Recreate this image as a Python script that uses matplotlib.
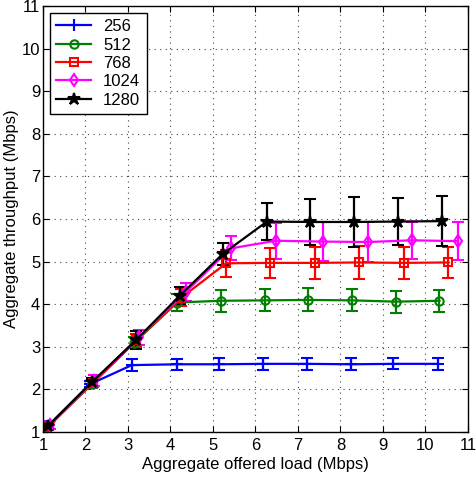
import matplotlib
matplotlib.use("Agg")
import matplotlib.pyplot as plt
from matplotlib.lines import Line2D

plt.rcParams['font.family'] = ['Liberation Sans', 'DejaVu Sans']

labels = ['256', '512', '768', '1024', '1280']
colors = ['#0000ff', '#008000', '#ff0000', '#ff00ff', '#000000']
markers = ['+', 'o', 's', 'd', '*']

x256 = [1.10, 2.10, 3.09, 4.15, 5.15, 6.17, 7.21, 8.25, 9.24, 10.29]
y256 = [1.13, 2.12, 2.57, 2.59, 2.59, 2.60, 2.60, 2.59, 2.60, 2.60]
e256 = [0.05, 0.07, 0.14, 0.13, 0.14, 0.14, 0.14, 0.14, 0.13, 0.14]

x512 = [1.10, 2.15, 3.15, 4.16, 5.18, 6.22, 7.23, 8.27, 9.30, 10.33]
y512 = [1.12, 2.12, 3.10, 4.04, 4.08, 4.09, 4.10, 4.09, 4.06, 4.08]
e512 = [0.06, 0.08, 0.12, 0.20, 0.26, 0.26, 0.27, 0.26, 0.26, 0.26]

x768 = [1.15, 2.17, 3.20, 4.25, 5.31, 6.34, 7.41, 8.44, 9.49, 10.54]
y768 = [1.15, 2.15, 3.15, 4.15, 4.96, 4.97, 4.97, 4.98, 4.97, 4.98]
e768 = [0.08, 0.10, 0.15, 0.20, 0.31, 0.36, 0.37, 0.38, 0.38, 0.37]

x1024 = [1.17, 2.20, 3.25, 4.36, 5.42, 6.48, 7.59, 8.65, 9.68, 10.77]
y1024 = [1.17, 2.20, 3.22, 4.29, 5.31, 5.49, 5.47, 5.46, 5.50, 5.48]
e1024 = [0.10, 0.13, 0.17, 0.21, 0.28, 0.42, 0.45, 0.46, 0.44, 0.44]

x1280 = [1.12, 2.15, 3.19, 4.22, 5.23, 6.27, 7.29, 8.31, 9.35, 10.39]
y1280 = [1.14, 2.17, 3.16, 4.20, 5.18, 5.94, 5.93, 5.93, 5.94, 5.95]
e1280 = [0.08, 0.10, 0.20, 0.20, 0.26, 0.43, 0.55, 0.59, 0.55, 0.58]

xs = [x256, x512, x768, x1024, x1280]
ys = [y256, y512, y768, y1024, y1280]
es = [e256, e512, e768, e1024, e1280]

xticks = list(range(1, 12))
yticks = list(range(1, 12))

fig = plt.figure(figsize=(4.76, 4.82), dpi=100)
ax = fig.add_axes([0.0903, 0.1037, 0.8927, 0.8839])

handles = []
for x, y, e, c, m, l in zip(xs, ys, es, colors, markers, labels):
    ms = 9 if m == '*' else (8 if m == '+' else 6)
    mfc = c if m in ('*', '+') else 'none'
    ax.errorbar(x, y, yerr=e, color=c, marker=m, markersize=ms,
                markerfacecolor=mfc, markeredgecolor=c, markeredgewidth=1.5,
                linewidth=1.6, elinewidth=1.6, capsize=4, capthick=1.6)
    handles.append(Line2D([], [], color=c, marker=m, markersize=ms,
                          markerfacecolor=mfc, markeredgecolor=c,
                          markeredgewidth=1.5, linewidth=1.6, label=l))

ax.set_xlim(1, 11)
ax.set_ylim(1, 11)
ax.set_xticks(xticks)
ax.set_yticks(yticks)
ax.tick_params(direction='in', top=True, right=True, labelsize=12, length=4)
ax.tick_params(axis='y', pad=2)
ax.tick_params(axis='x', pad=4)
ax.grid(True, linestyle=(0, (1, 4)), color='#444444', linewidth=0.8)
for s in ax.spines.values():
    s.set_linewidth(1.0)
ax.set_xlabel('Aggregate offered load (Mbps)', fontsize=12, labelpad=3)
ax.set_ylabel('Aggregate throughput (Mbps)', fontsize=12, labelpad=2)

leg = ax.legend(handles=handles, loc='upper left', fontsize=12, frameon=True,
                fancybox=False, edgecolor='black', framealpha=1,
                borderaxespad=0.4, handlelength=2.1, handletextpad=0.7,
                labelspacing=0.2, borderpad=0.4)
leg.get_frame().set_linewidth(1.0)

fig.savefig('out.png', dpi=100)
